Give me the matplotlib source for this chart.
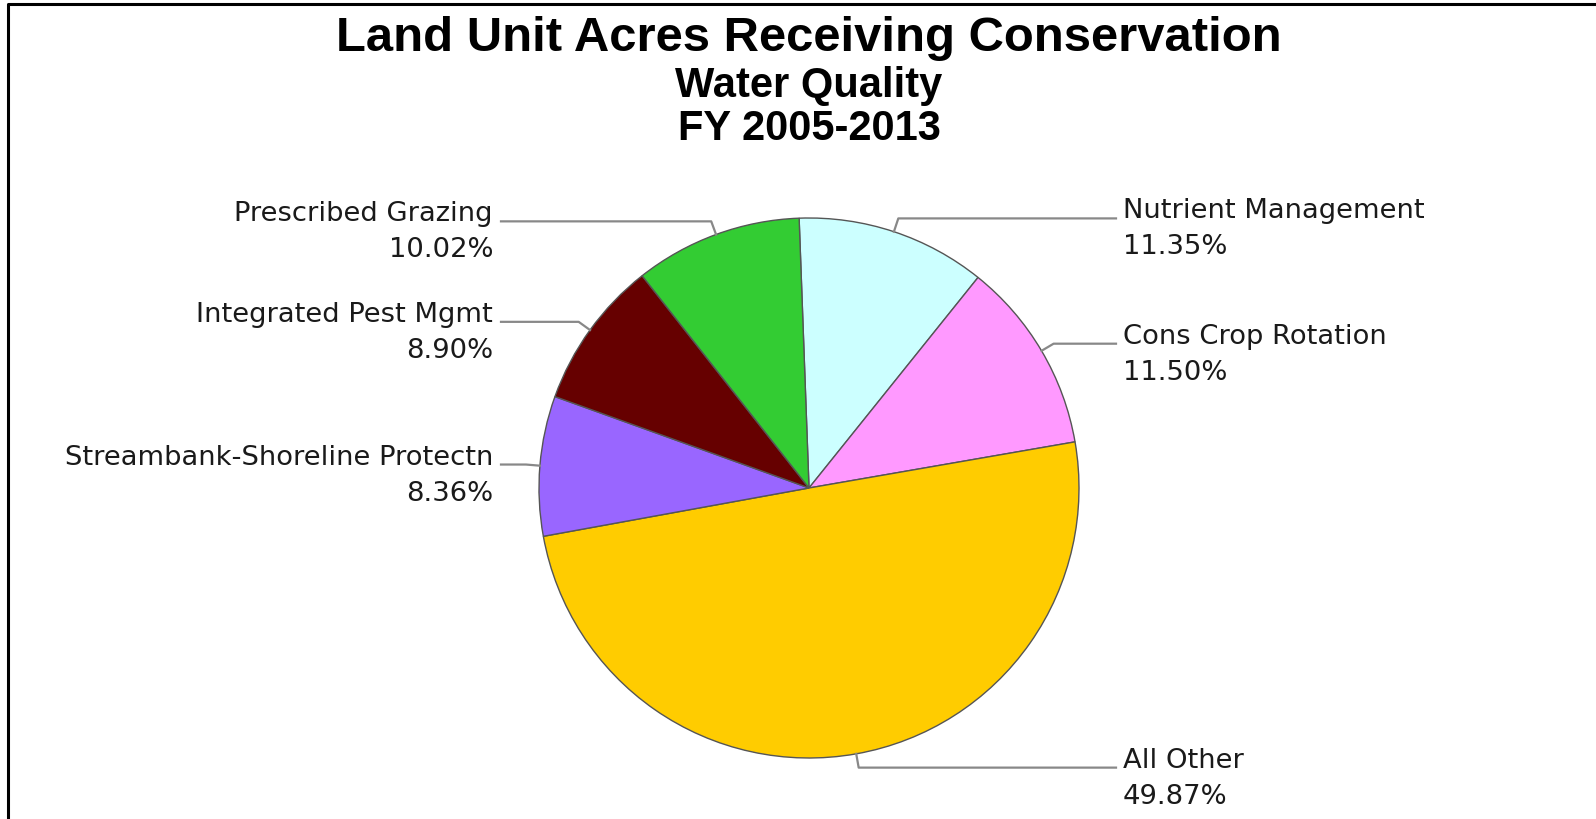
import numpy as np
import matplotlib
matplotlib.use("Agg")
import matplotlib.pyplot as plt

# Land unit acres receiving conservation, water quality, FY 2005-2013
practices = ["Nutrient Management", "Cons Crop Rotation", "All Other",
             "Streambank-Shoreline Protectn", "Integrated Pest Mgmt",
             "Prescribed Grazing"]
percent = [11.35, 11.50, 49.87, 8.36, 8.90, 10.02]
colors = ["#CCFFFF", "#FF99FF", "#FFCC00", "#9966FF", "#660000", "#33CC33"]

W, H = 1596, 820
fig = plt.figure(figsize=(W / 100, H / 100), dpi=100)
ax = fig.add_axes([0, 0, 1, 1])


def Y(y):
    # image pixel row -> data y
    return H - y


cx, cy, r = 809, 489, 270
wedges, _ = ax.pie(percent, colors=colors, startangle=92.1, counterclock=False,
                   center=(cx, Y(cy)), radius=r,
                   wedgeprops=dict(edgecolor="#555555", linewidth=1.0))

ax.set_xlim(0, W)
ax.set_ylim(0, H)
ax.set_aspect("equal")
ax.set_axis_off()

# frame (cropped page border)
ax.plot([8, 8, W], [0, Y(5), Y(5)], color="black", lw=2.2, solid_capstyle="butt")

# titles
ax.text(809, Y(51), "Land Unit Acres Receiving Conservation", ha="center", va="baseline",
        fontsize=35.3, fontweight="bold", family="Liberation Sans")
ax.text(809, Y(97), "Water Quality", ha="center", va="baseline",
        fontsize=30, fontweight="bold", family="Liberation Sans")
ax.text(809, Y(140.5), "FY 2005-2013", ha="center", va="baseline",
        fontsize=30, fontweight="bold", family="Liberation Sans")

# labels with leader lines
for w, name, p in zip(wedges, practices, percent):
    mid = np.deg2rad((w.theta1 + w.theta2) / 2)
    ex, ey = cx + r * np.cos(mid), Y(cy) + r * np.sin(mid)
    kx, ky = cx + (r + 14) * np.cos(mid), Y(cy) + (r + 14) * np.sin(mid)
    if np.cos(mid) >= 0:
        tx, ha, lx = 1123, "left", 1116
    else:
        tx, ha, lx = 493, "right", 501
    ax.plot([ex, kx, lx], [ey, ky, ky], color="#888888", lw=1.6)
    ax.text(tx, ky + 1, name, ha=ha, va="baseline", fontsize=19.7,
            family="DejaVu Sans", color="#1a1a1a")
    ax.text(tx, ky + 1 - 36, f"{p:.2f}%", ha=ha, va="baseline", fontsize=19.7,
            family="DejaVu Sans", color="#1a1a1a")

fig.savefig("out.png", dpi=100)
